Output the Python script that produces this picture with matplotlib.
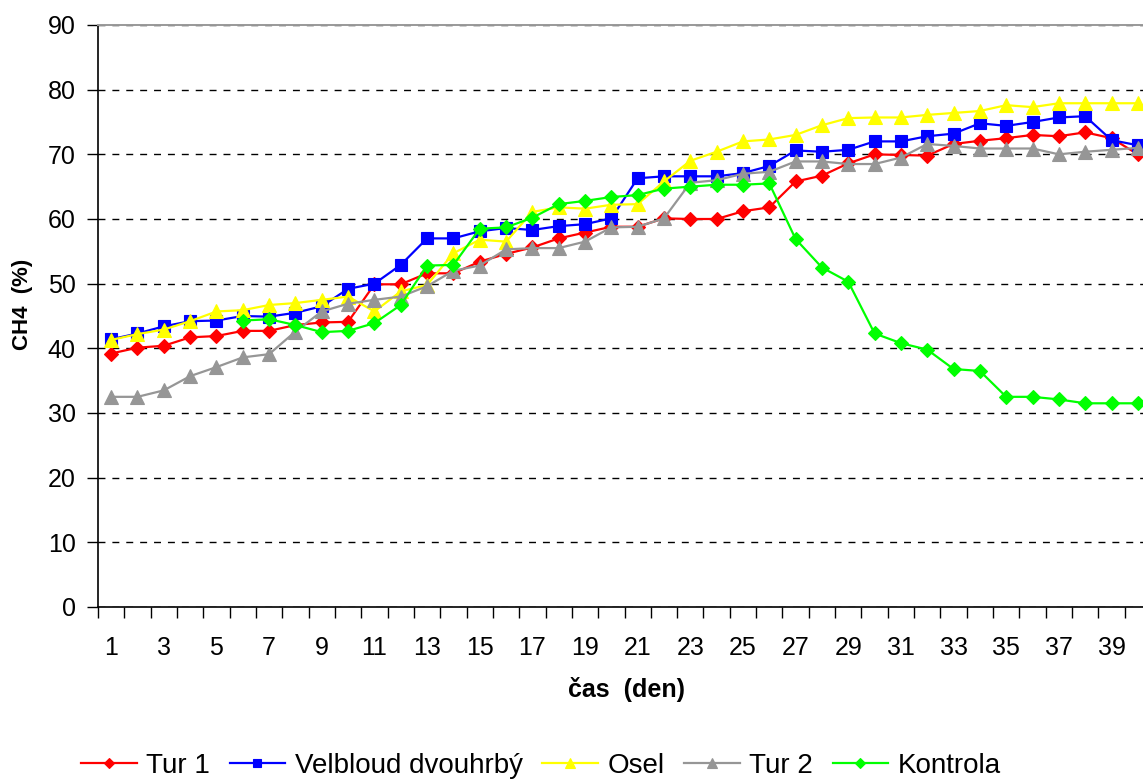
import numpy as np
import matplotlib
matplotlib.use("Agg")
import matplotlib.pyplot as plt
from matplotlib.ticker import FixedLocator, NullFormatter, FixedFormatter

plt.rcParams['font.family'] = ['Liberation Sans', 'DejaVu Sans']

# Days of the experiment
days = list(range(1, 41))

# CH4 content (%) per series
tur1 = [39.2, 40.1, 40.4, 41.7, 41.9, 42.7, 42.7, 43.6, 44.0, 44.1,
        49.9, 49.9, 51.6, 51.6, 53.4, 54.6, 55.6, 57.0, 57.9, 58.8,
        58.8, 60.1, 60.0, 60.0, 61.2, 61.8, 65.8, 66.7, 68.6, 70.0,
        69.9, 69.8, 71.6, 72.1, 72.5, 73.0, 72.8, 73.4, 72.5, 70.0]

velbloud = [41.4, 42.3, 43.4, 44.2, 44.3, 45.0, 44.9, 45.5, 46.5, 49.2,
            50.0, 52.9, 57.0, 57.0, 58.1, 58.6, 58.3, 58.9, 59.2, 60.1,
            66.3, 66.6, 66.6, 66.6, 67.1, 68.2, 70.6, 70.4, 70.7, 72.0,
            72.0, 72.8, 73.2, 74.8, 74.4, 75.0, 75.7, 75.9, 72.2, 71.4]

osel = [41.3, 42.2, 42.9, 44.2, 45.7, 45.9, 46.7, 47.0, 47.5, 48.0,
        45.7, 48.8, 49.8, 54.7, 56.8, 56.5, 61.1, 61.8, 61.6, 62.2,
        62.3, 65.8, 69.0, 70.4, 72.0, 72.3, 73.0, 74.5, 75.6, 75.7,
        75.7, 76.1, 76.4, 76.7, 77.6, 77.3, 77.9, 77.9, 77.9, 77.9]

tur2 = [32.5, 32.5, 33.5, 35.7, 37.1, 38.6, 39.1, 42.6, 45.7, 46.9,
        47.5, 48.0, 49.6, 52.0, 52.8, 55.3, 55.5, 55.5, 56.5, 58.7,
        58.8, 60.1, 65.6, 66.0, 67.0, 67.3, 68.9, 68.9, 68.5, 68.5,
        69.5, 71.6, 71.3, 70.9, 70.9, 70.9, 70.0, 70.4, 70.7, 71.0]

kontrola = [None, None, None, None, None, 44.3, 44.5, 43.6, 42.5, 42.7,
            43.9, 46.7, 52.8, 52.9, 58.5, 58.7, 60.2, 62.3, 62.8, 63.4,
            63.7, 64.7, 65.0, 65.3, 65.3, 65.5, 56.9, 52.5, 50.3, 42.3,
            40.8, 39.8, 36.8, 36.5, 32.5, 32.5, 32.1, 31.5, 31.5, 31.5]

series_names = ["Tur 1", "Velbloud dvouhrbý", "Osel", "Tur 2", "Kontrola"]
y_ticks = [0, 10, 20, 30, 40, 50, 60, 70, 80, 90]
x_tick_labels = [str(d) for d in days if d % 2 == 1]

styles = [
    dict(color="#FF0000", marker="D", ms=7.0),
    dict(color="#0000FF", marker="s", ms=8.0),
    dict(color="#FFFF00", marker="^", ms=10.0),
    dict(color="#969696", marker="^", ms=10.0),
    dict(color="#00FF00", marker="D", ms=7.0),
]

fig = plt.figure(figsize=(11.43, 7.80), dpi=100)
ax = fig.add_axes([98 / 1143, 173 / 780, 1053 / 1143, 582 / 780])

data = [tur1, velbloud, osel, tur2, kontrola]
handles = []
for name, vals, st in zip(series_names, data, styles):
    y = np.array([np.nan if v is None else v for v in vals], dtype=float)
    h, = ax.plot(days, y, color=st["color"], lw=1.6, marker=st["marker"],
                 ms=st["ms"], mfc=st["color"], mec=st["color"], mew=0.8,
                 label=name)
    handles.append(h)

ax.set_xlim(0.5, 40.5)
ax.set_ylim(0, 90)

# Y axis
ax.set_yticks(y_ticks)
ax.set_yticklabels([str(t) for t in y_ticks], fontsize=18)
ax.tick_params(axis="y", direction="out", length=8, width=1, pad=8, colors="black")

# X axis: ticks at category boundaries, labels on odd days
ax.xaxis.set_major_locator(FixedLocator([d + 0.5 for d in range(0, 41)]))
ax.xaxis.set_major_formatter(NullFormatter())
ax.xaxis.set_minor_locator(FixedLocator([d for d in days if d % 2 == 1]))
ax.xaxis.set_minor_formatter(FixedFormatter(x_tick_labels))
ax.tick_params(axis="x", which="major", direction="out", length=8, width=1)
ax.tick_params(axis="x", which="minor", length=0, pad=21, labelsize=18)

# Dashed horizontal gridlines
ax.yaxis.grid(True, color="black", lw=1.0, linestyle=(0, (5, 5)))
ax.set_axisbelow(True)

for side in ("left", "bottom"):
    ax.spines[side].set_color("black")
    ax.spines[side].set_linewidth(1.2)
for side in ("top", "right"):
    ax.spines[side].set_color("#999999")
    ax.spines[side].set_linewidth(1.4)

ax.set_ylabel("CH4  (%)", fontsize=16, fontweight="bold")
ax.yaxis.set_label_coords(-0.062, 0.52)
ax.set_xlabel("čas  (den)", fontsize=18, fontweight="bold")
ax.xaxis.set_label_coords((626 - 98) / 1053, -(690 - 607) / 582)
ax.xaxis.label.set_verticalalignment("center")

fig.legend(handles=handles, labels=series_names, loc="center",
           bbox_to_anchor=(541 / 1143, 1 - 766 / 780), ncol=5, frameon=False,
           fontsize=20, handlelength=2.0, handletextpad=0.35,
           columnspacing=0.7, markerscale=0.75)

fig.savefig("out.png", dpi=100)
